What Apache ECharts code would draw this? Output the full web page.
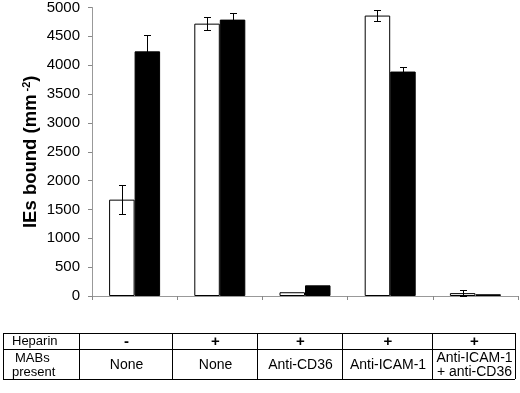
<!DOCTYPE html>
<html><head><meta charset="utf-8">
<script src="https://cdn.jsdelivr.net/npm/echarts@6/dist/echarts.min.js"></script>
<style>html,body{margin:0;padding:0;background:#fff}#c{width:520px;height:393px}</style>
</head><body><div id="c"></div>
<script>
var categories = ['G1', 'G2', 'G3', 'G4', 'G5'];
var heparinRow = ['-', '+', '+', '+', '+'];
var mabsRow = ['None', 'None', 'Anti-CD36', 'Anti-ICAM-1', 'Anti-ICAM-1\n+ anti-CD36'];
var whiteValues = [1670, 4720, 65, 4860, 50];
var whiteErr = [250, 115, 0, 100, 50];
var blackValues = [4240, 4790, 185, 3890, 30];
var blackErr = [290, 115, 0, 80, 0];
var yTicks = [0, 500, 1000, 1500, 2000, 2500, 3000, 3500, 4000, 4500, 5000];

var BAR_W = 25.5;
var chart = echarts.init(document.getElementById('c'), null, {renderer: 'canvas'});

function errSeries(values, errs, side) {
  var data = values.map(function (v, i) { return [i, v, errs[i]]; });
  return {
    type: 'custom',
    z: 10,
    data: data,
    renderItem: function (params, api) {
      var i = api.value(0), v = api.value(1), e = api.value(2);
      if (!e) return null;
      var c = api.coord([i, v]);
      var x = Math.round(c[0] + side * BAR_W / 2) + 0.5;
      var top = Math.round(api.coord([i, v + e])[1]) + 0.5;
      var bot = Math.round(api.coord([i, v - e])[1]) + 0.5;
      var st = {stroke: '#000', lineWidth: 1};
      return {
        type: 'group',
        children: [
          {type: 'line', shape: {x1: x, y1: top, x2: x, y2: bot}, style: st},
          {type: 'line', shape: {x1: x - 3.5, y1: top, x2: x + 3.5, y2: top}, style: st},
          {type: 'line', shape: {x1: x - 3.5, y1: bot, x2: x + 3.5, y2: bot}, style: st}
        ]
      };
    }
  };
}

// table graphics
var colX = [3, 79, 172, 257, 342, 432, 515];
var rowY = [333, 349, 379];
var g = [];
var ls = {stroke: '#000', lineWidth: 1};
rowY.forEach(function (y) {
  g.push({type: 'line', shape: {x1: colX[0], y1: y + 0.5, x2: colX[colX.length - 1], y2: y + 0.5}, style: ls});
});
colX.forEach(function (x) {
  g.push({type: 'line', shape: {x1: x + 0.5, y1: rowY[0], x2: x + 0.5, y2: rowY[2]}, style: ls});
});
var font = 'Arial, "Liberation Sans", sans-serif';
g.push({type: 'text', x: 12, y: 341, style: {text: 'Heparin', font: '13px ' + font, fill: '#000', verticalAlign: 'middle'}});
g.push({type: 'text', x: 15, y: 358, style: {text: 'MABs', font: '13px ' + font, fill: '#000', verticalAlign: 'middle'}});
g.push({type: 'text', x: 12, y: 372, style: {text: 'present', font: '13px ' + font, fill: '#000', verticalAlign: 'middle'}});
for (var i = 0; i < heparinRow.length; i++) {
  var cx = (colX[i + 1] + colX[i + 2]) / 2 + 1;
  g.push({type: 'text', x: cx, y: 342, style: {text: heparinRow[i], font: 'bold 15px ' + font, fill: '#000', align: 'center', verticalAlign: 'middle'}});
  g.push({type: 'text', x: cx, y: 365, style: {text: mabsRow[i], font: '14px ' + font, lineHeight: 14, fill: '#000', align: 'center', verticalAlign: 'middle'}});
}

chart.setOption({
  animation: false,
  backgroundColor: '#fff',
  grid: {left: 92, top: 6, right: 2, bottom: 97, containLabel: false},
  xAxis: {
    type: 'category',
    data: categories,
    axisLine: {lineStyle: {color: '#999', width: 1}},
    axisTick: {show: true, length: 4, lineStyle: {color: '#888'}},
    axisLabel: {show: false}
  },
  yAxis: {
    type: 'value',
    min: 0, max: 5000, interval: 500,
    name: 'IEs bound (mm{sup|-2})',
    nameLocation: 'middle',
    nameGap: 51,
    nameMoveOverlap: false,
    nameTextStyle: {
      fontFamily: font, fontWeight: 'bold', fontSize: 18.5, color: '#000',
      rich: {sup: {fontFamily: font, fontWeight: 'bold', fontSize: 11, verticalAlign: 'top', padding: [0, 0, 9, 3]}}
    },
    axisLine: {show: true, lineStyle: {color: '#999', width: 1}},
    axisTick: {show: true, inside: false, length: 4, lineStyle: {color: '#888'}},
    axisLabel: {fontFamily: font, fontSize: 15, color: '#000', margin: 12,
      formatter: function (v) { return String(v); }},
    splitLine: {show: false}
  },
  series: [
    {type: 'bar', data: whiteValues, barWidth: BAR_W, barGap: '0%',
      itemStyle: {color: '#fff', borderColor: '#000', borderWidth: 1}},
    {type: 'bar', data: blackValues, barWidth: BAR_W, barGap: '0%',
      itemStyle: {color: '#000', borderColor: '#000', borderWidth: 1}},
    errSeries(whiteValues, whiteErr, -1),
    errSeries(blackValues, blackErr, 1)
  ],
  graphic: g
});
</script></body></html>
